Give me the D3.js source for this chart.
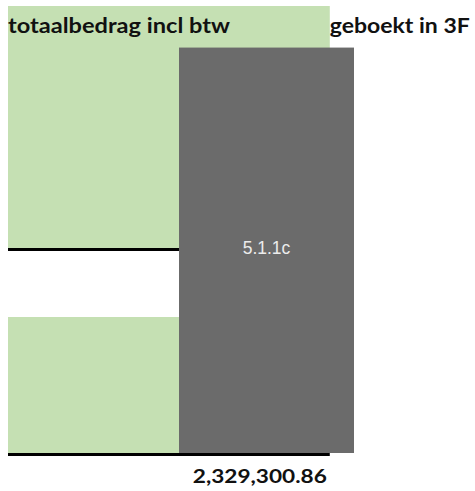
<!DOCTYPE html>
<html>
<head>
<meta charset="utf-8">
<script src="https://cdn.jsdelivr.net/npm/d3@7"></script>
<style>
  body { margin: 0; background: #fff; }
</style>
</head>
<body>
<div id="chart"></div>
<script>
// columns and amounts
var columns = ["totaalbedrag incl btw", "geboekt in 3F"];
var total = 2329300.86;
var totalLabel = "2,329,300.86";
// left column, stacked from the bottom: green part, gap, green part
var leftSegments = [
  { name: "deel 1", value: 708700, shown: true },
  { name: "open", value: 359560, shown: false },
  { name: "deel 2", value: 1261040.86, shown: true }
];
// right column: booked amount
var bookedValue = 2112650;
var bookedLabel = "5.1.1c";

var width = 475, height = 491;

var svg = d3.select("#chart")
  .append("svg")
  .attr("width", width)
  .attr("height", height);

// scales
var x = d3.scaleBand()
  .domain(columns)
  .range([8, 354])
  .paddingInner(0);

var y = d3.scaleLinear()
  .domain([0, total])
  .range([453, 6]);

var green = "#c5e0b3";
var grey = "#6b6b6b";

// stack left segments
var acc = 0;
leftSegments.forEach(function (d) {
  d.y0 = acc;
  d.y1 = acc + d.value;
  acc = d.y1;
});

// header band stretches over part of the second column
var headerRight = x(columns[1]) + x.bandwidth() * 0.86;
var topSeg = leftSegments[2];
svg.append("rect")
  .attr("x", x(columns[0]))
  .attr("y", y(topSeg.y1))
  .attr("width", headerRight - x(columns[0]))
  .attr("height", y(topSeg.y0) - y(topSeg.y1))
  .style("fill", green);

svg.selectAll(".seg")
  .data(leftSegments.filter(function (d) { return d.shown; }))
  .enter()
  .append("rect")
  .attr("class", "seg")
  .attr("x", x(columns[0]))
  .attr("y", function (d) { return y(d.y1); })
  .attr("width", x.bandwidth() + 2)
  .attr("height", function (d) { return y(d.y0) - y(d.y1); })
  .style("fill", green);

// black underlines
svg.append("line")
  .attr("x1", x(columns[0]))
  .attr("x2", x(columns[1]))
  .attr("y1", y(topSeg.y0) + 1.5)
  .attr("y2", y(topSeg.y0) + 1.5)
  .style("stroke", "#000")
  .style("stroke-width", 3);

svg.append("line")
  .attr("x1", x(columns[0]))
  .attr("x2", headerRight)
  .attr("y1", y(0) + 1.5)
  .attr("y2", y(0) + 1.5)
  .style("stroke", "#000")
  .style("stroke-width", 3);

// booked bar
svg.append("rect")
  .attr("x", x(columns[1]) - 2)
  .attr("y", y(bookedValue))
  .attr("width", x.bandwidth() + 2)
  .attr("height", y(0) - y(bookedValue))
  .style("fill", grey);

svg.append("text")
  .attr("x", x(columns[1]) + x.bandwidth() / 2 - 1)
  .attr("y", y(topSeg.y0) + 6)
  .attr("text-anchor", "middle")
  .style("font-family", "'Liberation Sans', Arial, sans-serif")
  .style("font-size", "17.5px")
  .style("fill", "#ececec")
  .text(bookedLabel);

// column headers
svg.append("text")
  .attr("x", x(columns[0]))
  .attr("y", y(total) + 27)
  .attr("textLength", 222)
  .attr("lengthAdjust", "spacingAndGlyphs")
  .style("font-family", "Lato, 'Open Sans', sans-serif")
  .style("font-weight", "bold")
  .style("font-size", "20px")
  .style("fill", "#111")
  .text(columns[0]);

svg.append("text")
  .attr("x", headerRight)
  .attr("y", y(total) + 27)
  .attr("textLength", 140)
  .attr("lengthAdjust", "spacingAndGlyphs")
  .style("font-family", "Lato, 'Open Sans', sans-serif")
  .style("font-weight", "bold")
  .style("font-size", "20px")
  .style("fill", "#111")
  .text(columns[1]);

// total
svg.append("text")
  .attr("x", headerRight - 3)
  .attr("y", y(0) + 30)
  .attr("text-anchor", "end")
  .attr("textLength", 134)
  .attr("lengthAdjust", "spacingAndGlyphs")
  .style("font-family", "Lato, 'Open Sans', sans-serif")
  .style("font-weight", "bold")
  .style("font-size", "19px")
  .style("fill", "#111")
  .text(totalLabel);
</script>
</body>
</html>
